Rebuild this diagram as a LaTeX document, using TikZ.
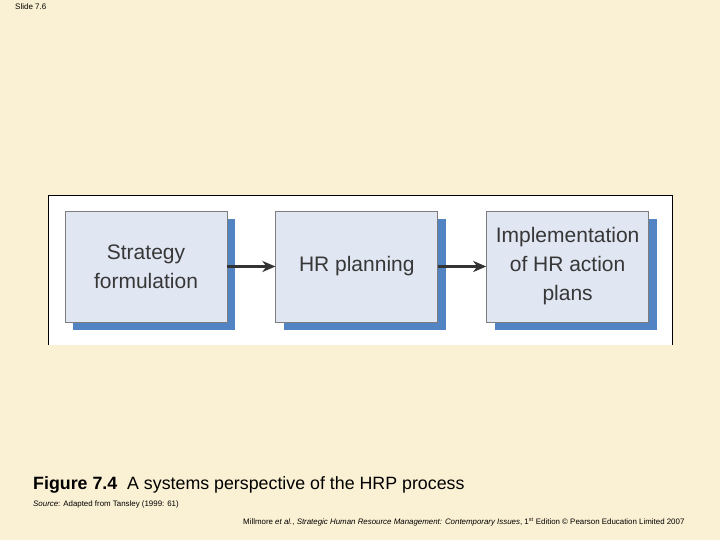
\documentclass[tikz,border=0pt]{standalone}
\usepackage{fontspec}
\setmainfont{Liberation Sans}
\usetikzlibrary{arrows.meta, positioning, shadows}

\definecolor{slidebg}{RGB}{250,240,211}
\definecolor{boxfill}{RGB}{224,230,242}
\definecolor{boxshadow}{RGB}{82,132,196}
\definecolor{boxline}{RGB}{125,125,125}
\definecolor{boxtext}{RGB}{55,55,55}

\begin{document}
\begin{tikzpicture}[
  x=1pt, y=-1pt,
  node distance=48pt,
  stage/.style={draw=boxline, line width=0.8pt, fill=boxfill, rectangle, align=center,
    minimum width=162pt, minimum height=111pt, inner sep=0pt, text=boxtext,
    font=\fontsize{21}{29}\selectfont,
    drop shadow={shadow xshift=8pt, shadow yshift=-8pt, fill=boxshadow, opacity=1}},
  arrow/.style={-{Stealth[length=13pt, width=11pt, inset=4pt]}, line width=2.6pt, draw=black!80},
  note/.style={anchor=base west, inner sep=0pt}
]

% Page
\fill[slidebg] (0,0) rectangle (720,540);
\useasboundingbox (0,0) rectangle (720,540);
\fill[white] (48,195) rectangle (672,345);
\draw[line width=0.8pt] (48,345) -- (48,195) -- (672,195) -- (672,345);

% Stages
\node[stage] (strategy) at (146,266.5) {Strategy\\formulation};
\node[stage, right=of strategy] (hrplan) {HR planning};
\node[stage, right=of hrplan] (action) {Implementation\\of HR action\\plans};

% Arrows
\draw[arrow] (strategy) -- (hrplan);
\draw[arrow] (hrplan) -- (action);

% Notes
\node[note, font=\fontsize{8}{9}\selectfont] (slide) at (15,10) {Slide 7.6};
\node[note, font=\fontsize{17.8}{20}\selectfont] (caption) at (33,489) {\textbf{Figure 7.4}\ \ A systems perspective of the HRP process};
\node[note, font=\fontsize{7.9}{9}\selectfont] (source) at (33,506) {\textit{Source}: Adapted from Tansley (1999: 61)};
\node[note, font=\fontsize{7.9}{9}\selectfont] (footer) at (243,524) {Millmore \textit{et al.}, \textit{Strategic Human Resource Management: Contemporary Issues}, 1\textsuperscript{st} Edition \textcopyright\ Pearson Education Limited 2007};

\end{tikzpicture}
\end{document}
